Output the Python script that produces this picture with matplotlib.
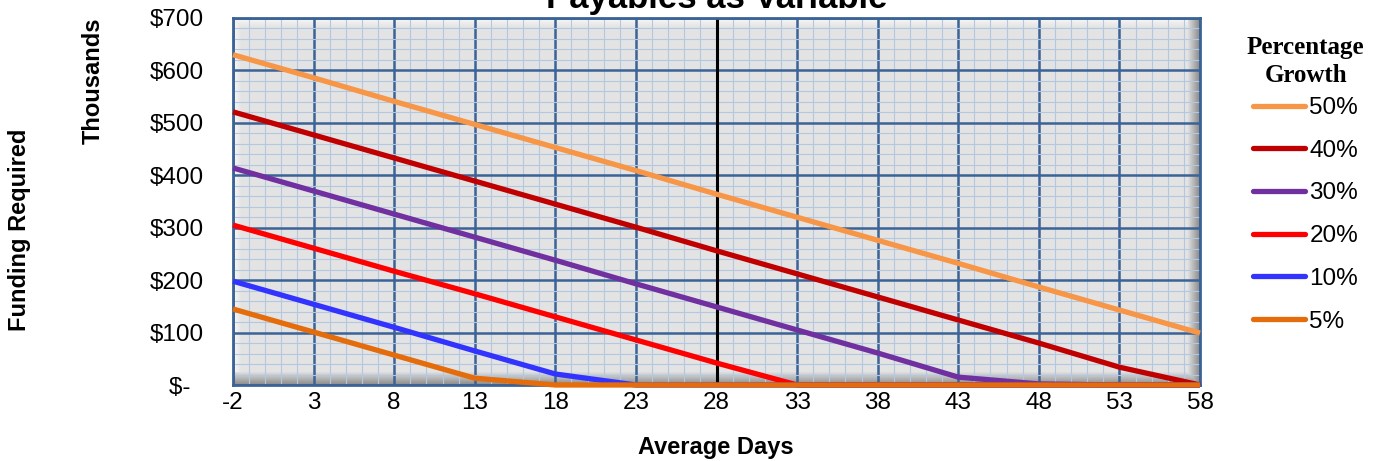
import matplotlib
matplotlib.use("Agg")
import matplotlib.pyplot as plt
import numpy as np

# data (funding required, $ thousands)
days = [-2, 3, 8, 13, 18, 23, 28, 33, 38, 43, 48, 53, 58]
growth_50 = [630, 586, 541, 497, 453, 409, 364, 320, 276, 232, 187, 143, 99]
growth_40 = [521, 477, 433, 389, 345, 301, 256, 212, 168, 124, 80, 34, 0]
growth_30 = [414, 370, 326, 282, 238, 193, 149, 105, 61, 15, 2, 0, 0]
growth_20 = [305, 261, 217, 174, 130, 86, 42, 0, 0, 0, 0, 0, 0]
growth_10 = [198, 154, 110, 65, 21, 0, 0, 0, 0, 0, 0, 0, 0]
growth_5 = [145, 101, 57, 13, 0, 0, 0, 0, 0, 0, 0, 0, 0]
marker_day = 28

series = [
    ("50%", growth_50, "#f79646"),
    ("40%", growth_40, "#c00000"),
    ("30%", growth_30, "#7030a0"),
    ("20%", growth_20, "#ff0000"),
    ("10%", growth_10, "#3333ff"),
    ("5%", growth_5, "#e46c0a"),
]

plt.rcParams["font.family"] = ["Liberation Sans", "DejaVu Sans"]
plt.rcParams["axes.unicode_minus"] = False

fig = plt.figure(figsize=(13.75, 4.61), dpi=100)
ax = fig.add_axes([233 / 1375, 76 / 461, 967 / 1375, 367 / 461])
ax.set_facecolor("#e3e3e3")

# bevel look of the plot area
H, W = 367, 967
img = np.zeros((H, W, 4))
rows = np.arange(H)[:, None] * np.ones((1, W))
cols = np.ones((H, 1)) * np.arange(W)[None, :]
# dark shadow bottom / right
shadow = np.maximum(np.clip(1 - (H - 1 - rows) / 13, 0, 1), np.clip(1 - (W - 1 - cols) / 12, 0, 1))
# highlight top / left
light = np.maximum(np.clip(1 - rows / 10, 0, 1), np.clip(1 - cols / 8, 0, 1))
img[..., :3] = np.where(shadow[..., None] > 0, 0.4, 1.0)
img[..., 3] = np.where(shadow > 0, shadow * 0.7, light * 0.8)
ax.imshow(img, extent=(0, 1, 0, 1), transform=ax.transAxes, aspect="auto", zorder=0.5)

ax.set_xlim(-2, 58)
ax.set_ylim(0, 700)
ax.set_xticks(np.arange(-2, 59, 5))
ax.set_xticks(np.arange(-2, 59, 1), minor=True)
ax.set_yticks(np.arange(0, 701, 100))
ax.set_yticks(np.arange(0, 701, 20), minor=True)
ax.set_yticklabels(["$-  "] + ["$%d" % v for v in range(100, 701, 100)])
ax.grid(which="major", color="#3b6396", lw=1.8, zorder=1)
ax.grid(which="minor", color="#b3c7e1", lw=0.8, zorder=0.9)
ax.set_axisbelow(True)
ax.tick_params(which="both", length=0, labelsize=17.5)
ax.tick_params(axis="y", pad=21)
ax.tick_params(axis="x", pad=5)
for s in ax.spines.values():
    s.set_color("#3b6396")
    s.set_linewidth(2)

ax.axvline(marker_day, color="black", lw=2.2, zorder=2)

for label, vals, col in series:
    ax.plot(days, vals, color=col, lw=3.8, label=label, zorder=3, clip_on=False,
            solid_joinstyle="round", solid_capstyle="butt")

fig.text(0.521, 1 - 8 / 461, "Payables as Variable", ha="center", va="baseline",
         fontsize=25, fontweight="bold")
fig.text(716 / 1375, 1 - 447 / 461, "Average Days", ha="center", va="center",
         fontsize=17, fontweight="bold")
fig.text(93 / 1375, 1 - 81 / 461, "Thousands", ha="center", va="center",
         rotation=90, fontsize=17, fontweight="bold")
fig.text(20 / 1375, 1 - 230 / 461, "Funding Required", ha="center", va="center",
         rotation=90, fontsize=17, fontweight="bold")

leg = fig.legend(loc="upper left", bbox_to_anchor=(1247 / 1375, 1 - 36 / 461),
                 frameon=False, fontsize=17.5, handlelength=2.1, handletextpad=0.2,
                 labelspacing=0.85, borderpad=0, borderaxespad=0,
                 title="Percentage\nGrowth",
                 title_fontproperties={"family": "Liberation Serif", "weight": "bold", "size": 18})
leg.get_title().set_multialignment("center")
leg.get_title().set_linespacing(1.3)
leg._legend_box.sep = 7
for h in leg.get_lines():
    h.set_linewidth(3.8)
    h.set_solid_capstyle("round")

fig.savefig("out.png", dpi=100)
